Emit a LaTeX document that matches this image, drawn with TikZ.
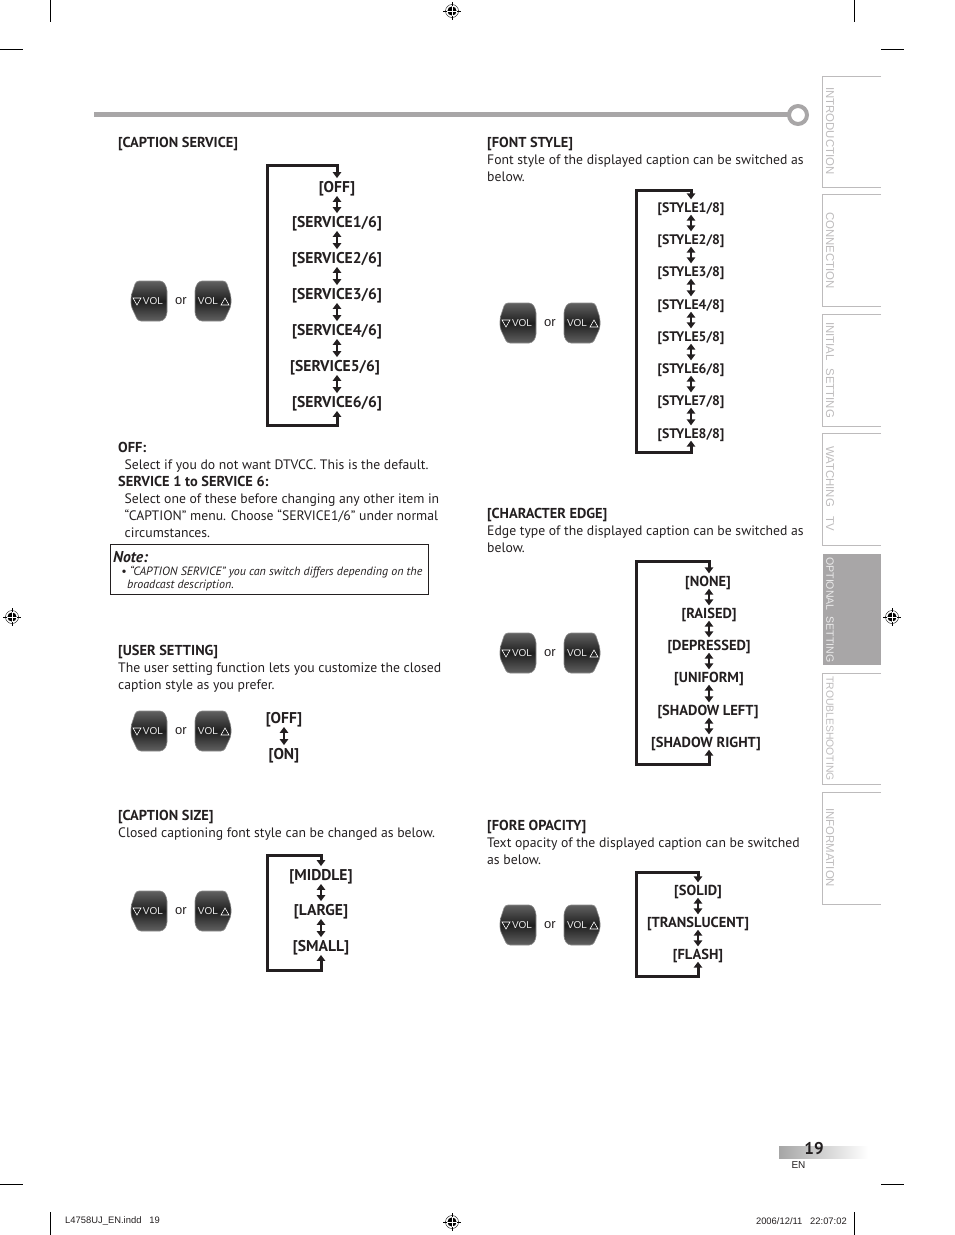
\documentclass[tikz,border=0pt]{standalone}
\usepackage{fontspec}
\setmainfont{PT Sans}
\newfontfamily\helv{Liberation Sans}
\usetikzlibrary{arrows.meta, positioning, calc}
\definecolor{tvgray}{HTML}{A8A6A7}
\definecolor{tabgray}{HTML}{BDBBBC}
\definecolor{inkblack}{HTML}{231F20}
\tikzset{
  pics/volleft/.style={code={
    \path[draw=black!45, line width=0.6pt, rounded corners=3pt, top color=black!62, bottom color=black!62, middle color=black!88]
      (-13,-20) -- (14,-20) -- (18,-13) -- (18,14) -- (14,20) -- (-11,20) -- (-18,5) -- (-18,-5) -- cycle;
    \draw[white, line width=0.6pt] (-16,-3) -- (-8,-3) -- (-12,4) -- cycle;
    \node[vollabel] (-vol) at (4,0) {VOL};
  }},
  pics/volright/.style={code={
    \path[draw=black!45, line width=0.6pt, rounded corners=3pt, top color=black!62, bottom color=black!62, middle color=black!88]
      (-14,-20) -- (13,-20) -- (18,-5) -- (18,5) -- (11,20) -- (-14,20) -- (-18,14) -- (-18,-13) -- cycle;
    \draw[white, line width=0.6pt] (8,4) -- (16,4) -- (12,-3) -- cycle;
    \node[vollabel] (-vol) at (-5,0) {VOL};
  }},
  pics/regmark/.style={code={
    \draw[black, line width=0.4pt] (0,0) circle (6.5);
    \draw[black, line width=0.4pt] (-9,0) -- (9,0) (0,-9) -- (0,9);
    \fill[black] (0,0) circle (4.6);
    \draw[white, line width=0.9pt] (-4.6,0) -- (4.6,0) (0,-4.6) -- (0,4.6);
  }},
}
\begin{document}
\begin{tikzpicture}[
  x=1pt, y=-1pt,
  every node/.style={inner sep=0pt, text=inkblack},
  para/.style={anchor=north west, align=left, font=\fontsize{13.7}{17}\selectfont},
  head/.style={anchor=north west, align=left, font=\fontsize{14.4}{17}\selectfont\bfseries},
  bigitem/.style={font=\fontsize{15.6}{17}\selectfont\bfseries, text height=11pt, text depth=0.5pt, inner ysep=3pt},
  smallitem/.style={font=\fontsize{13.8}{16}\selectfont\bfseries, text height=10pt, text depth=0pt, inner ysep=2.5pt},
  wideitem/.style={smallitem, font=\fontsize{14.5}{16}\selectfont\bfseries},
  vollabel/.style={font=\helv\fontsize{10}{12}\selectfont, text=white!92!black},
  orlabel/.style={font=\helv\fontsize{13}{14}\selectfont},
  updown/.style={{Triangle[length=6pt,width=8.5pt]}-{Triangle[length=6pt,width=8.5pt]}, line width=2pt, inkblack},
  loopline/.style={{Triangle[length=6pt,width=8.5pt]}-{Triangle[length=6pt,width=8.5pt]}, line width=3pt, inkblack},
  tabline/.style={draw=tabgray, line width=1pt},
  tablabel/.style={rotate=-90, anchor=west, font=\helv\fontsize{11.4}{12}\selectfont, text=tabgray},
  cropline/.style={black, line width=0.7pt},
  footer/.style={font=\helv\fontsize{9.4}{11}\selectfont},
]
\useasboundingbox (0,0) rectangle (954,1235);

% crop marks and register marks
\draw[cropline] (50,0) -- (50,22);
\draw[cropline] (854,0) -- (854,22);
\draw[cropline] (0,49) -- (23,49);
\draw[cropline] (881,49) -- (904,49);
\draw[cropline] (0,1184) -- (23,1184);
\draw[cropline] (881,1184) -- (904,1184);
\draw[cropline] (50,1212) -- (50,1235);
\draw[cropline] (854,1212) -- (854,1235);
\pic at (452,11) {regmark};
\pic at (12,617) {regmark};
\pic at (892,617) {regmark};
\pic at (452,1222) {regmark};

% top rule
\fill[tvgray] (94,112) rectangle (790,117);
\draw[tvgray, line width=4pt, fill=white] (798,115) circle (9);

% side tabs
\draw[tabline] (881,76) -| (822,187) -- (881,187);
\draw[tabline] (881,194) -| (822,306) -- (881,306);
\draw[tabline] (881,314) -| (822,426) -- (881,426);
\draw[tabline] (881,433) -| (822,545) -- (881,545);
\fill[tvgray] (823,554) rectangle (881,665);
\draw[tabline] (881,673) -| (822,784) -- (881,784);
\draw[tabline] (881,792) -| (822,904) -- (881,904);
\node[tablabel] (tabintro) at (830,87) {INTRODUCTION};
\node[tablabel] (tabconn) at (830,212) {CONNECTION};
\node[tablabel] (tabinit) at (830,322) {INITIAL\ \ \hspace{1.5pt}SETTING};
\node[tablabel] (tabwatch) at (830,446) {WATCHING\ \ \ TV};
\node[tablabel, text=white!92!black, font=\helv\fontsize{10.6}{12}\selectfont] (tabopt) at (830,557) {OPTIONAL\ \ SETTING};
\node[tablabel, font=\helv\fontsize{10.4}{12}\selectfont] (tabtrouble) at (830,676) {TROUBLESHOOTING};
\node[tablabel] (tabinfo) at (830,808) {INFORMATION};

% caption service
\node[head] (capservice) at (118,137) {[CAPTION SERVICE]};
\pic (capdown) at (149,301) {volleft};
\node[orlabel] (capor) at (181,301) {or};
\pic (capup) at (213,301) {volright};
\node[bigitem] (off) at (337,187) {[OFF]};
\node[bigitem] (svcone) at (337,222) {[SERVICE1/6]};
\node[bigitem] (svctwo) at (337,258) {[SERVICE2/6]};
\node[bigitem] (svcthree) at (337,294) {[SERVICE3/6]};
\node[bigitem] (svcfour) at (337,330) {[SERVICE4/6]};
\node[bigitem] (svcfive) at (335,366) {[SERVICE5/6]};
\node[bigitem] (svcsix) at (337,402) {[SERVICE6/6]};
\draw[updown] (off) -- (svcone);
\draw[updown] (svcone) -- (svctwo);
\draw[updown] (svctwo) -- (svcthree);
\draw[updown] (svcthree) -- (svcfour);
\draw[updown] (svcfour) -- (svcfour |- svcfive.north);
\draw[updown] (svcfour |- svcfive.south) -- (svcsix);
\coordinate (svctop) at (267,165);
\coordinate (svcbot) at (267,425);
\draw[loopline] (off.north) |- (svctop) -- (svcbot) -| (svcsix.south);

\node[head] (offhead) at (118,442) {OFF:};
\node[para] (offtext) at (124.5,460) {Select if you do not want DTVCC. This is the default.};
\node[head] (svchead) at (118,476) {SERVICE 1 to SERVICE 6:};
\node[para] (svctext) at (124.5,494) {Select one of these before changing any other item in\\“CAPTION” menu. Choose “SERVICE1/6” under normal\\circumstances.};

% note box
\draw[inkblack, line width=0.8pt] (110.5,544.5) rectangle (428.5,594.5);
\node[anchor=north west, font=\fontsize{15.7}{17}\selectfont\bfseries\itshape] (notehead) at (113,551.5) {Note:};
\node[anchor=north west, align=left, font=\fontsize{12}{13}\selectfont\itshape] (notetext) at (121,566) {• “CAPTION SERVICE” you can switch differs depending on the\\\hspace*{6pt}broadcast description.};

% user setting
\node[head] (userhead) at (118,645) {[USER SETTING]};
\node[para] (usertext) at (118,663) {The user setting function lets you customize the closed\\caption style as you prefer.};
\pic (userdown) at (149,731) {volleft};
\node[orlabel] (useror) at (181,731) {or};
\pic (userup) at (213,731) {volright};
\node[bigitem] (useroff) at (284,718) {[OFF]};
\node[bigitem] (useron) at (284,754) {[ON]};
\draw[updown] (useroff) -- (useron);

% caption size
\node[head] (sizehead) at (118,810) {[CAPTION SIZE]};
\node[para] (sizetext) at (118,828) {Closed captioning font style can be changed as below.};
\pic (sizedown) at (149,911) {volleft};
\node[orlabel] (sizeor) at (181,911) {or};
\pic (sizeup) at (213,911) {volright};
\node[bigitem] (middle) at (321,875) {[MIDDLE]};
\node[bigitem] (large) at (321,910) {[LARGE]};
\node[bigitem] (small) at (321,946) {[SMALL]};
\draw[updown] (middle) -- (large);
\draw[updown] (large) -- (small);
\coordinate (sizetop) at (267,855);
\coordinate (sizebot) at (267,970);
\draw[loopline] (middle.north) |- (sizetop) -- (sizebot) -| (small.south);

% font style
\node[head] (fonthead) at (487,137) {[FONT STYLE]};
\node[para] (fonttext) at (487,155) {Font style of the displayed caption can be switched as\\below.};
\pic (fontdown) at (518,323) {volleft};
\node[orlabel] (fontor) at (550,323) {or};
\pic (fontup) at (582,323) {volright};
\node[smallitem] (styleone) at (691,207) {[STYLE1/8]};
\node[smallitem] (styletwo) at (691,239) {[STYLE2/8]};
\node[smallitem] (stylethree) at (691,271) {[STYLE3/8]};
\node[smallitem] (stylefour) at (691,304) {[STYLE4/8]};
\node[smallitem] (stylefive) at (691,336) {[STYLE5/8]};
\node[smallitem] (stylesix) at (691,368) {[STYLE6/8]};
\node[smallitem] (styleseven) at (691,400) {[STYLE7/8]};
\node[smallitem] (styleeight) at (691,433) {[STYLE8/8]};
\draw[updown] (styleone) -- (styletwo);
\draw[updown] (styletwo) -- (stylethree);
\draw[updown] (stylethree) -- (stylefour);
\draw[updown] (stylefour) -- (stylefive);
\draw[updown] (stylefive) -- (stylesix);
\draw[updown] (stylesix) -- (styleseven);
\draw[updown] (styleseven) -- (styleeight);
\coordinate (styletop) at (636,190);
\coordinate (stylebot) at (636,452);
\draw[loopline] (styleone.north) |- (styletop) -- (stylebot) -| (styleeight.south);

% character edge
\node[head] (edgehead) at (487,508) {[CHARACTER EDGE]};
\node[para] (edgetext) at (487,526) {Edge type of the displayed caption can be switched as\\below.};
\pic (edgedown) at (518,653) {volleft};
\node[orlabel] (edgeor) at (550,653) {or};
\pic (edgeup) at (582,653) {volright};
\node[wideitem] (none) at (708,581) {[NONE]};
\node[wideitem] (raised) at (709,613) {[RAISED]};
\node[wideitem] (depressed) at (709,645) {[DEPRESSED]};
\node[wideitem] (uniform) at (709,677) {[UNIFORM]};
\node[wideitem] (shleft) at (708,710) {[SHADOW LEFT]};
\node[wideitem] (shright) at (706,742) {[SHADOW RIGHT]};
\draw[updown] (raised |- none.south) -- (raised);
\draw[updown] (raised) -- (depressed);
\draw[updown] (depressed) -- (uniform);
\draw[updown] (uniform) -- (uniform |- shleft.north);
\draw[updown] (uniform |- shleft.south) -- (uniform |- shright.north);
\coordinate (edgetop) at (636,561);
\coordinate (edgebot) at (636,764);
\draw[loopline] (raised |- none.north) |- (edgetop) -- (edgebot) -| (raised |- shright.south);

% fore opacity
\node[head] (forehead) at (487,820) {[FORE OPACITY]};
\node[para] (foretext) at (487,838) {Text opacity of the displayed caption can be switched\\as below.};
\pic (foredown) at (518,925) {volleft};
\node[orlabel] (foreor) at (550,925) {or};
\pic (foreup) at (582,925) {volright};
\node[wideitem] (solid) at (698,890) {[SOLID]};
\node[wideitem] (translucent) at (698,922) {[TRANSLUCENT]};
\node[wideitem] (flash) at (698,954) {[FLASH]};
\draw[updown] (solid) -- (translucent);
\draw[updown] (translucent) -- (flash);
\coordinate (foretop) at (636,872);
\coordinate (forebot) at (636,976);
\draw[loopline] (solid.north) |- (foretop) -- (forebot) -| (flash.south);

% page number and footer
\shade[left color=black!35, right color=white] (779,1146) rectangle (868,1158);
\node[font=\fontsize{17}{18}\selectfont\bfseries] (pagenum) at (814,1149) {19};
\node[footer, font=\helv\fontsize{10}{11}\selectfont] (pagelang) at (798.5,1165) {EN};
\node[footer, anchor=west] (slugleft) at (65,1221) {L4758UJ\_EN.indd\ \ \ 19};
\node[footer, anchor=east] (slugright) at (847,1221) {2006/12/11\ \ \ 22:07:02};
\end{tikzpicture}
\end{document}
